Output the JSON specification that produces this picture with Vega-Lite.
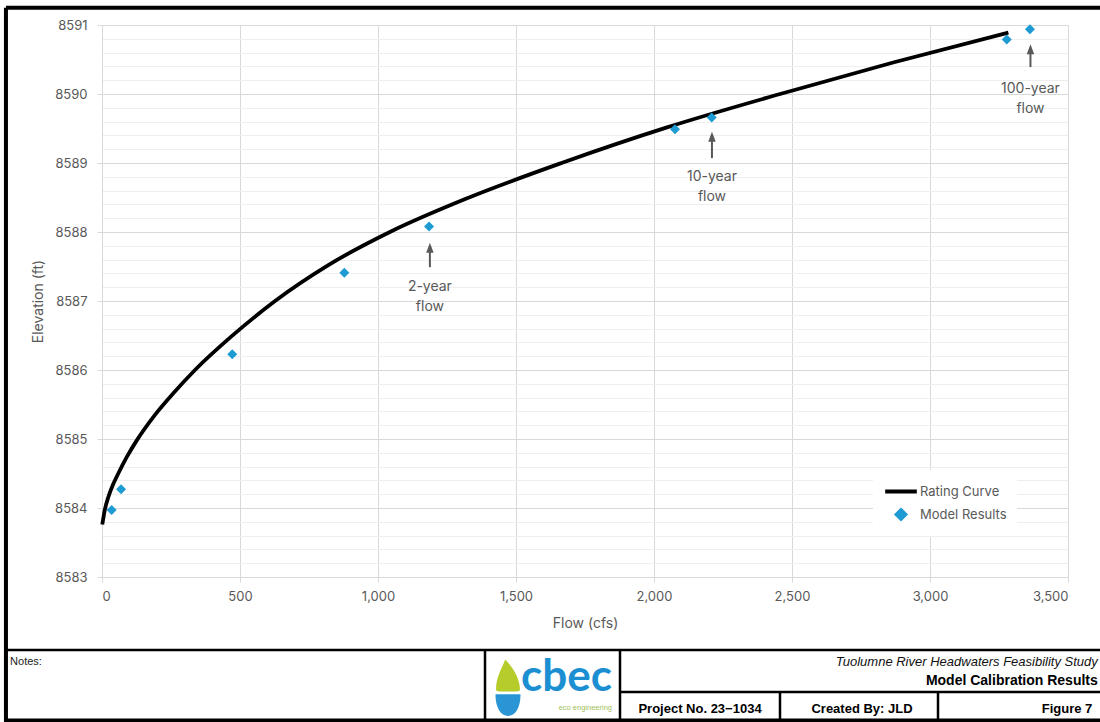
{
  "$schema": "https://vega.github.io/schema/vega-lite/v6.json",
  "width": 966,
  "height": 552,
  "autosize": {"type": "none"},
  "padding": {"left": 102, "top": 25, "right": 32, "bottom": 145},
  "background": "white",
  "config": {
    "view": {"stroke": null},
    "font": "Inter",
    "axis": {
      "labelFont": "Inter", "titleFont": "Inter",
      "labelColor": "#595959", "titleColor": "#595959",
      "labelFontSize": 13, "titleFontSize": 14, "titleFontWeight": "normal",
      "domainColor": "#d9d9d9", "tickColor": "#d9d9d9", "gridColor": "#d9d9d9",
      "tickSize": 5, "domainWidth": 1, "gridWidth": 1
    }
  },
  "datasets": {
    "curve": [
      {"flow": 1, "elev": 8583.76}, {"flow": 10, "elev": 8583.97}, {"flow": 23, "elev": 8584.16},
      {"flow": 40, "elev": 8584.34}, {"flow": 59, "elev": 8584.5}, {"flow": 90, "elev": 8584.74},
      {"flow": 126, "elev": 8584.98}, {"flow": 192, "elev": 8585.35}, {"flow": 260, "elev": 8585.67},
      {"flow": 337, "elev": 8586.0}, {"flow": 470, "elev": 8586.49}, {"flow": 627, "elev": 8587.0},
      {"flow": 820, "elev": 8587.52}, {"flow": 1043, "elev": 8588.0}, {"flow": 1330, "elev": 8588.5},
      {"flow": 1665, "elev": 8589.0}, {"flow": 2050, "elev": 8589.52}, {"flow": 2457, "elev": 8590.0},
      {"flow": 2870, "elev": 8590.46}, {"flow": 3284, "elev": 8590.89}
    ],
    "model": [
      {"flow": 35, "elev": 8583.97}, {"flow": 69, "elev": 8584.27}, {"flow": 472, "elev": 8586.23},
      {"flow": 878, "elev": 8587.41}, {"flow": 1185, "elev": 8588.08}, {"flow": 2076, "elev": 8589.49},
      {"flow": 2209, "elev": 8589.66}, {"flow": 3278, "elev": 8590.79}, {"flow": 3362, "elev": 8590.94}
    ],
    "notes": [
      {"flow": 1188, "tail": 8587.49, "head": 8587.77, "label": "2-year\nflow", "ly": 8587.2},
      {"flow": 2210, "tail": 8589.07, "head": 8589.38, "label": "10-year\nflow", "ly": 8588.79},
      {"flow": 3364, "tail": 8590.39, "head": 8590.65, "label": "100-year\nflow", "ly": 8590.07}
    ],
    "frame": [
      {"part": "outer", "flow": -348, "flow2": -348, "elev": 8591.25, "elev2": 8580.88},
      {"part": "outer", "flow": -348, "flow2": 3650, "elev": 8591.25, "elev2": 8591.25},
      {"part": "outer", "flow": -348, "flow2": 3650, "elev": 8580.92, "elev2": 8580.92},
      {"part": "inner", "flow": -348, "flow2": 3650, "elev": 8581.942, "elev2": 8581.942},
      {"part": "inner", "flow": 1387.7, "flow2": 1387.7, "elev": 8581.942, "elev2": 8580.9},
      {"part": "inner", "flow": 1876.8, "flow2": 1876.8, "elev": 8581.942, "elev2": 8580.9},
      {"part": "inner", "flow": 1876.8, "flow2": 3650, "elev": 8581.333, "elev2": 8581.333},
      {"part": "inner", "flow": 2456.5, "flow2": 2456.5, "elev": 8581.333, "elev2": 8580.9},
      {"part": "inner", "flow": 3029, "flow2": 3029, "elev": 8581.333, "elev2": 8580.9}
    ],
    "block": [
      {"role": "notes", "flow": -333, "elev": 8581.768, "text": "Notes:"},
      {"role": "study", "flow": 3608, "elev": 8581.768, "text": "Tuolumne River Headwaters Feasibility Study"},
      {"role": "figtitle", "flow": 3608, "elev": 8581.493, "text": "Model Calibration Results"},
      {"role": "cell", "flow": 2166.7, "elev": 8581.087, "text": "Project No. 23\u22121034"},
      {"role": "cell", "flow": 2753.6, "elev": 8581.087, "text": "Created By: JLD"},
      {"role": "cell", "flow": 3496.4, "elev": 8581.087, "text": "Figure 7"},
      {"role": "logo", "flow": 1518, "elev": 8581.53, "text": "cbec"},
      {"role": "tag", "flow": 1848, "elev": 8581.1, "text": "eco engineering"},
      {"role": "drop", "flow": 1471, "elev": 8581.391, "text": ""}
    ]
  },
  "resolve": {"axis": {"x": "independent", "y": "independent"}},
  "layer": [
    {
      "data": {"name": "curve"},
      "mark": {"type": "line", "strokeWidth": 3.8, "interpolate": "monotone", "clip": false},
      "encoding": {
        "x": {"field": "flow", "type": "quantitative",
              "scale": {"domain": [0, 3500], "nice": false, "zero": false},
              "axis": {"orient": "bottom", "values": [0, 500, 1000, 1500, 2000, 2500, 3000, 3500], "format": ",d", "title": "Flow (cfs)", "grid": true, "labelPadding": 8, "titlePadding": 13}},
        "y": {"field": "elev", "type": "quantitative",
              "scale": {"domain": [8583, 8591], "nice": false, "zero": false},
              "axis": {"orient": "left", "values": [8583.2, 8583.4, 8583.6, 8583.8, 8584.2, 8584.4, 8584.6, 8584.8, 8585.2, 8585.4, 8585.6, 8585.8, 8586.2, 8586.4, 8586.6, 8586.8, 8587.2, 8587.4, 8587.6, 8587.8, 8588.2, 8588.4, 8588.6, 8588.8, 8589.2, 8589.4, 8589.6, 8589.8, 8590.2, 8590.4, 8590.6, 8590.8], "grid": true, "gridColor": "#eeeeee", "labels": false, "ticks": false, "domain": false, "title": null}},
        "color": {"datum": "Rating Curve", "type": "nominal",
                  "scale": {"domain": ["Rating Curve", "Model Results"], "range": ["#000000", "#1F9BD4"]},
                  "legend": {
                    "title": null, "orient": "none", "legendX": 771, "legendY": 445, "padding": 10,
                    "fillColor": "white", "labelFont": "Inter", "labelFontSize": 13, "labelColor": "#595959",
                    "labelOffset": 1, "symbolType": "stroke", "symbolSize": 1000, "symbolStrokeWidth": 4,
                    "clipHeight": 23, "rowPadding": 0,
                    "encode": {"symbols": {"update": {
                      "shape": {"signal": "datum.value == 'Rating Curve' ? 'stroke' : 'M0,-0.27 L0.27,0 L0,0.27 L-0.27,0 Z'"},
                      "size": {"value": 1000},
                      "stroke": {"signal": "datum.value == 'Rating Curve' ? '#000000' : 'transparent'"},
                      "fill": {"signal": "datum.value == 'Rating Curve' ? 'transparent' : '#1F9BD4'"},
                      "strokeWidth": {"value": 4},
                      "opacity": {"value": 1}
                    }}}
                  }}
      }
    },
    {
      "data": {"name": "model"},
      "mark": {"type": "point", "shape": "diamond", "filled": true, "size": 100, "opacity": 1, "color": "#1F9BD4", "clip": false},
      "encoding": {
        "x": {"field": "flow", "type": "quantitative", "scale": {"domain": [0, 3500], "nice": false, "zero": false}, "axis": null},
        "y": {"field": "elev", "type": "quantitative", "scale": {"domain": [8583, 8591], "nice": false, "zero": false},
              "axis": {"orient": "left", "values": [8583, 8584, 8585, 8586, 8587, 8588, 8589, 8590, 8591], "format": "d", "title": "Elevation (ft)", "grid": true, "labelPadding": 10, "titlePadding": 9}}
      }
    },
    {
      "data": {"name": "notes"},
      "mark": {"type": "rule", "color": "#595959", "strokeWidth": 2, "clip": false},
      "encoding": {
        "x": {"field": "flow", "type": "quantitative", "scale": {"domain": [0, 3500], "nice": false, "zero": false}, "axis": null},
        "y": {"field": "tail", "type": "quantitative", "scale": {"domain": [8583, 8591], "nice": false, "zero": false}, "axis": null},
        "y2": {"field": "head"}
      }
    },
    {
      "data": {"name": "notes"},
      "mark": {"type": "point", "shape": "M0,-1 L-0.75,1 L0.75,1 Z", "filled": true, "size": 100, "opacity": 1, "color": "#595959", "clip": false},
      "encoding": {
        "x": {"field": "flow", "type": "quantitative", "scale": {"domain": [0, 3500], "nice": false, "zero": false}, "axis": null},
        "y": {"field": "head", "type": "quantitative", "scale": {"domain": [8583, 8591], "nice": false, "zero": false}, "axis": null}
      }
    },
    {
      "data": {"name": "notes"},
      "mark": {"type": "text", "lineBreak": "\n", "lineHeight": 20, "fontSize": 14, "font": "Inter", "color": "#595959", "align": "center", "baseline": "middle", "clip": false},
      "encoding": {
        "x": {"field": "flow", "type": "quantitative", "scale": {"domain": [0, 3500], "nice": false, "zero": false}, "axis": null},
        "y": {"field": "ly", "type": "quantitative", "scale": {"domain": [8583, 8591], "nice": false, "zero": false}, "axis": null},
        "text": {"field": "label"}
      }
    },
    {
      "data": {"name": "frame"},
      "transform": [{"filter": "datum.part == 'outer'"}],
      "mark": {"type": "rule", "color": "#000000", "strokeWidth": 4, "clip": false},
      "encoding": {
        "x": {"field": "flow", "type": "quantitative", "scale": {"domain": [0, 3500], "nice": false, "zero": false}, "axis": null},
        "x2": {"field": "flow2"},
        "y": {"field": "elev", "type": "quantitative", "scale": {"domain": [8583, 8591], "nice": false, "zero": false}, "axis": null},
        "y2": {"field": "elev2"}
      }
    },
    {
      "data": {"name": "frame"},
      "transform": [{"filter": "datum.part == 'inner'"}],
      "mark": {"type": "rule", "color": "#000000", "strokeWidth": 2.5, "clip": false},
      "encoding": {
        "x": {"field": "flow", "type": "quantitative", "scale": {"domain": [0, 3500], "nice": false, "zero": false}, "axis": null},
        "x2": {"field": "flow2"},
        "y": {"field": "elev", "type": "quantitative", "scale": {"domain": [8583, 8591], "nice": false, "zero": false}, "axis": null},
        "y2": {"field": "elev2"}
      }
    },
    {
      "data": {"name": "block"},
      "transform": [{"filter": "datum.role == 'notes'"}],
      "mark": {"type": "text", "font": "Liberation Sans", "fontSize": 11, "color": "#222222", "align": "left", "baseline": "middle", "clip": false},
      "encoding": {
        "x": {"field": "flow", "type": "quantitative", "scale": {"domain": [0, 3500], "nice": false, "zero": false}, "axis": null},
        "y": {"field": "elev", "type": "quantitative", "scale": {"domain": [8583, 8591], "nice": false, "zero": false}, "axis": null},
        "text": {"field": "text"}
      }
    },
    {
      "data": {"name": "block"},
      "transform": [{"filter": "datum.role == 'study'"}],
      "mark": {"type": "text", "font": "Liberation Sans", "fontSize": 13, "fontStyle": "italic", "color": "#111111", "align": "right", "baseline": "middle", "clip": false},
      "encoding": {
        "x": {"field": "flow", "type": "quantitative", "scale": {"domain": [0, 3500], "nice": false, "zero": false}, "axis": null},
        "y": {"field": "elev", "type": "quantitative", "scale": {"domain": [8583, 8591], "nice": false, "zero": false}, "axis": null},
        "text": {"field": "text"}
      }
    },
    {
      "data": {"name": "block"},
      "transform": [{"filter": "datum.role == 'figtitle'"}],
      "mark": {"type": "text", "font": "Liberation Sans", "fontSize": 14, "fontWeight": "bold", "color": "#000000", "align": "right", "baseline": "middle", "clip": false},
      "encoding": {
        "x": {"field": "flow", "type": "quantitative", "scale": {"domain": [0, 3500], "nice": false, "zero": false}, "axis": null},
        "y": {"field": "elev", "type": "quantitative", "scale": {"domain": [8583, 8591], "nice": false, "zero": false}, "axis": null},
        "text": {"field": "text"}
      }
    },
    {
      "data": {"name": "block"},
      "transform": [{"filter": "datum.role == 'cell'"}],
      "mark": {"type": "text", "font": "Liberation Sans", "fontSize": 13, "fontWeight": "bold", "color": "#000000", "align": "center", "baseline": "middle", "clip": false},
      "encoding": {
        "x": {"field": "flow", "type": "quantitative", "scale": {"domain": [0, 3500], "nice": false, "zero": false}, "axis": null},
        "y": {"field": "elev", "type": "quantitative", "scale": {"domain": [8583, 8591], "nice": false, "zero": false}, "axis": null},
        "text": {"field": "text"}
      }
    },
    {
      "data": {"name": "block"},
      "transform": [{"filter": "datum.role == 'logo'"}],
      "mark": {"type": "text", "font": "Lato", "fontSize": 44, "fontWeight": "bold", "color": "#1B8FD2", "align": "left", "baseline": "middle", "clip": false},
      "encoding": {
        "x": {"field": "flow", "type": "quantitative", "scale": {"domain": [0, 3500], "nice": false, "zero": false}, "axis": null},
        "y": {"field": "elev", "type": "quantitative", "scale": {"domain": [8583, 8591], "nice": false, "zero": false}, "axis": null},
        "text": {"field": "text"}
      }
    },
    {
      "data": {"name": "block"},
      "transform": [{"filter": "datum.role == 'tag'"}],
      "mark": {"type": "text", "font": "Liberation Sans", "fontSize": 7.5, "color": "#9fbf5a", "align": "right", "baseline": "middle", "clip": false},
      "encoding": {
        "x": {"field": "flow", "type": "quantitative", "scale": {"domain": [0, 3500], "nice": false, "zero": false}, "axis": null},
        "y": {"field": "elev", "type": "quantitative", "scale": {"domain": [8583, 8591], "nice": false, "zero": false}, "axis": null},
        "text": {"field": "text"}
      }
    },
    {
      "data": {"name": "block"},
      "transform": [{"filter": "datum.role == 'drop'"}],
      "mark": {"type": "point", "shape": "M-0.1,-1 C0.25,-0.65 0.42,-0.25 0.42,0.05 Q0.42,0.12 0.3,0.12 L-0.3,0.12 Q-0.42,0.12 -0.42,0.05 C-0.42,-0.4 -0.2,-0.7 -0.1,-1 Z", "filled": true, "size": 3249, "opacity": 1, "color": "#B5CC2A", "clip": false},
      "encoding": {
        "x": {"field": "flow", "type": "quantitative", "scale": {"domain": [0, 3500], "nice": false, "zero": false}, "axis": null},
        "y": {"field": "elev", "type": "quantitative", "scale": {"domain": [8583, 8591], "nice": false, "zero": false}, "axis": null}
      }
    },
    {
      "data": {"name": "block"},
      "transform": [{"filter": "datum.role == 'drop'"}],
      "mark": {"type": "point", "shape": "M-0.44,0.22 L0.44,0.22 C0.44,0.7 0.25,0.98 0,0.98 C-0.25,0.98 -0.44,0.7 -0.44,0.22 Z", "filled": true, "size": 3249, "opacity": 1, "color": "#2A95D5", "clip": false},
      "encoding": {
        "x": {"field": "flow", "type": "quantitative", "scale": {"domain": [0, 3500], "nice": false, "zero": false}, "axis": null},
        "y": {"field": "elev", "type": "quantitative", "scale": {"domain": [8583, 8591], "nice": false, "zero": false}, "axis": null}
      }
    }
  ]
}
